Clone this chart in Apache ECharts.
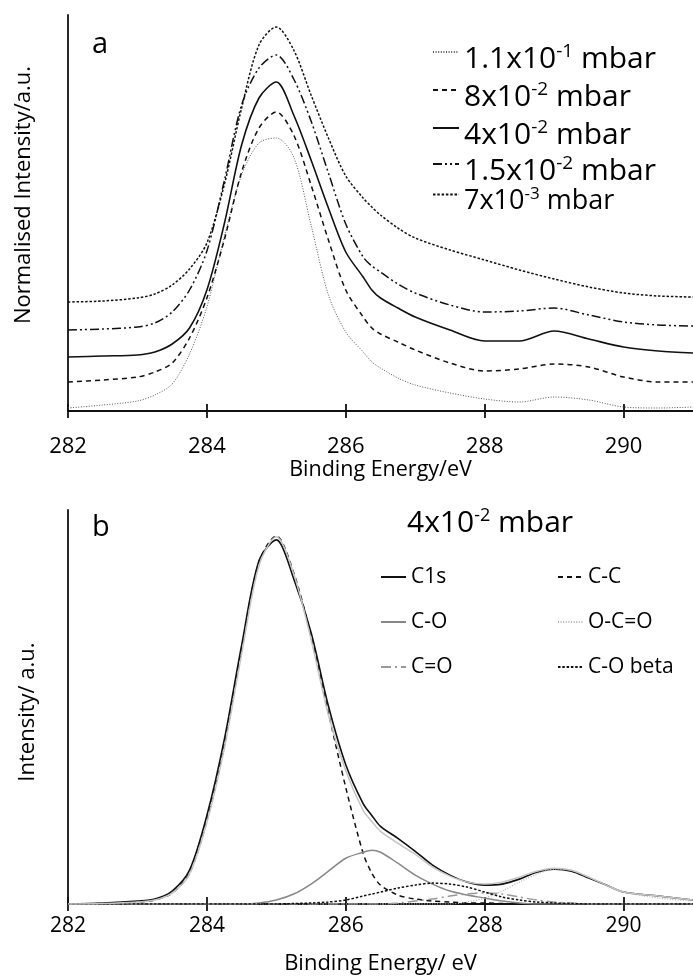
<!DOCTYPE html>
<html><head><meta charset="utf-8">
<script src="https://cdn.jsdelivr.net/npm/echarts@6/dist/echarts.min.js"></script>
<style>html,body{margin:0;padding:0;background:#fff}#c{width:693px;height:976px}</style>
</head><body><div id="c"></div>
<script>
// ---------- data: panel a ----------
const energyA = [282, 282.5, 283, 283.25, 283.5, 283.75, 284, 284.25, 284.5, 284.75, 285, 285.25, 285.5, 285.75, 286, 286.25, 286.375, 286.5, 286.75, 287, 287.5, 288, 288.5, 289, 289.5, 290, 290.5, 291];
const xTicks = [282, 284, 286, 288, 290];
const pressureMantissa = ['1.1x10', '8x10', '4x10', '1.5x10', '7x10'];
const pressureExponent = ['-1', '-2', '-2', '-2', '-3'];
const p1_1e1 = [0.03,0.06,0.10,0.16,0.27,0.57,1.04,1.74,2.36,2.68,2.73,2.54,1.86,1.16,0.79,0.59,0.49,0.43,0.33,0.26,0.18,0.12,0.09,0.14,0.11,0.04,0.03,0.04];
const p8e2   = [0.29,0.31,0.34,0.39,0.48,0.73,1.13,1.71,2.39,2.83,2.99,2.76,2.26,1.71,1.21,0.94,0.83,0.77,0.69,0.61,0.48,0.40,0.42,0.47,0.44,0.34,0.29,0.29];
const p4e2   = [0.54,0.55,0.56,0.59,0.67,0.83,1.21,1.87,2.66,3.13,3.29,2.96,2.51,2.03,1.59,1.34,1.21,1.13,1.03,0.94,0.81,0.70,0.70,0.80,0.72,0.64,0.60,0.58];
const p1_5e2 = [0.81,0.82,0.84,0.88,0.99,1.21,1.60,2.30,3.06,3.43,3.56,3.32,2.90,2.38,1.87,1.54,1.45,1.39,1.27,1.18,1.06,0.99,1.00,1.03,0.96,0.89,0.86,0.85];
const p7e3   = [1.09,1.10,1.13,1.17,1.26,1.42,1.68,2.26,3.03,3.66,3.84,3.61,3.16,2.73,2.35,2.13,2.04,1.96,1.83,1.73,1.61,1.51,1.41,1.32,1.24,1.18,1.15,1.14];

// ---------- data: panel b ----------
const energyB = [282, 282.5, 283, 283.25, 283.5, 283.75, 284, 284.25, 284.5, 284.75, 285, 285.25, 285.5, 285.75, 286, 286.25, 286.375, 286.5, 286.75, 287, 287.25, 287.5, 287.75, 288, 288.25, 288.5, 288.75, 289, 289.25, 289.5, 289.75, 290, 290.5, 291];
const c1s      = [0.00,0.01,0.03,0.05,0.13,0.34,0.89,1.65,2.60,3.45,3.66,3.27,2.73,1.99,1.40,1.01,0.89,0.78,0.66,0.53,0.39,0.29,0.22,0.19,0.20,0.25,0.32,0.35,0.33,0.26,0.19,0.12,0.08,0.04];
const envelope = [0.00,0.005,0.02,0.04,0.11,0.30,0.82,1.56,2.51,3.40,3.69,3.32,2.66,1.90,1.34,0.94,0.83,0.73,0.61,0.50,0.37,0.28,0.22,0.20,0.22,0.27,0.33,0.36,0.34,0.27,0.19,0.12,0.08,0.04];
const cc       = [0.00,0.005,0.02,0.04,0.11,0.31,0.84,1.59,2.56,3.44,3.70,3.33,2.69,1.92,1.17,0.51,0.31,0.19,0.09,0.05,0.03,0.02,0.01,0.01,0.005,0,0,0,0,0,0,0,0,0];
const co       = [0,0,0,0,0,0,0,0,0,0.01,0.04,0.10,0.20,0.33,0.46,0.52,0.54,0.52,0.41,0.29,0.20,0.13,0.09,0.06,0.03,0.01,0,0,0,0,0,0,0,0];
const oco      = [0,0,0,0,0,0,0,0,0,0,0,0,0,0,0,0,0,0,0,0,0,0,0.02,0.06,0.13,0.22,0.30,0.35,0.34,0.27,0.19,0.12,0.06,0.03];
const cdo      = [0,0,0,0,0,0,0,0,0,0,0,0,0,0,0,0,0,0,0.01,0.03,0.05,0.08,0.10,0.11,0.10,0.07,0.04,0.02,0.01,0,0,0,0,0];
const cobeta   = [0,0,0,0,0,0,0,0,0,0,0,0.005,0.01,0.02,0.04,0.08,0.10,0.12,0.16,0.19,0.21,0.20,0.17,0.12,0.07,0.04,0.02,0.01,0.005,0,0,0,0,0];
const componentNames = ['C1s', 'C-C', 'C-O', 'O-C=O', 'C=O', 'C-O beta'];
const titleB = ['4x10', '-2', ' mbar'];

// ---------- build ----------
const FONT = 'Open Sans';
const pair = (xs, ys) => xs.map((x, i) => [x, ys[i]]);
const pNames = pressureMantissa.map((m, i) => m + pressureExponent[i] + ' mbar');

const aStyles = [
  {color: '#555', width: 1, type: [1, 1.6]},
  {color: '#111', width: 1.5, type: [5, 4]},
  {color: '#111', width: 1.6, type: 'solid'},
  {color: '#111', width: 1.5, type: [9, 3, 2, 3, 2, 3]},
  {color: '#111', width: 1.5, type: [2.5, 1.8]}
];
const aValues = [p1_1e1, p8e2, p4e2, p1_5e2, p7e3];

const bSeriesDefs = [
  {name: 'C1s', data: c1s, style: {color: '#111', width: 1.6, type: 'solid'}},
  {name: 'C-C', data: cc, style: {color: '#111', width: 1.5, type: [5, 4]}},
  {name: 'C-O', data: co, style: {color: '#888', width: 1.5, type: 'solid'}},
  {name: 'O-C=O', data: oco, style: {color: '#b4b4b4', width: 1.3, type: [1, 1.6]}},
  {name: 'C=O', data: cdo, style: {color: '#999', width: 1.5, type: [10, 4, 2, 4]}},
  {name: 'C-O beta', data: cobeta, style: {color: '#111', width: 1.5, type: [2.5, 1.8]}},
  {name: 'envelope', data: envelope, style: {color: '#c4c4c4', width: 1.5, type: 'solid'}}
];

const series = [];
aValues.forEach((vals, i) => {
  series.push({name: pNames[i], type: 'line', xAxisIndex: 0, yAxisIndex: 0, data: pair(energyA, vals),
    smooth: 0.3, symbol: 'none', lineStyle: aStyles[i], color: aStyles[i].color, silent: true, clip: true, z: 3});
});
bSeriesDefs.forEach((d) => {
  series.push({name: d.name, type: 'line', xAxisIndex: 2, yAxisIndex: 1, data: pair(energyB, d.data),
    smooth: 0.3, symbol: 'none', lineStyle: d.style, color: d.style.color, silent: true, clip: true, z: 3});
});

const hiddenSymbol = {color: 'rgba(0,0,0,0)', borderColor: 'rgba(0,0,0,0)', borderWidth: 0, opacity: 0};
// [left, top, font size]
const aLegendPos = [[432, 42, 30], [432, 80, 30], [432, 118, 30], [432, 154, 30], [432, 186, 27]];
const legends = [];
pNames.forEach((n, i) => {
  const fs = aLegendPos[i][2];
  const lh = 36, padTop = 14;
  legends.push({
    data: [n], left: aLegendPos[i][0], top: aLegendPos[i][1], padding: 0, itemGap: 0,
    itemWidth: 26, itemHeight: 14, selectedMode: false, itemStyle: hiddenSymbol,
    formatter: () => '{m|' + pressureMantissa[i] + '}{s|' + pressureExponent[i] + '}{m| mbar}',
    textStyle: {fontFamily: FONT, color: '#000', padding: [padTop, 0, 0, 0], rich: {
      m: {fontFamily: FONT, fontSize: fs, lineHeight: lh, color: '#000'},
      s: {fontFamily: FONT, fontSize: Math.round(fs * 0.62), lineHeight: lh, color: '#000', padding: [0, 0, Math.round(fs * 0.5), 0]}
    }}
  });
});
const bLegendPos = [[380, 577], [557, 577], [380, 622], [557, 622], [380, 667], [557, 667]];
componentNames.forEach((n, i) => {
  legends.push({
    data: [n], left: bLegendPos[i][0], top: bLegendPos[i][1] - 13, padding: 0, itemGap: 0,
    itemWidth: 25, itemHeight: 14, selectedMode: false, itemStyle: hiddenSymbol,
    textStyle: {fontFamily: FONT, fontSize: 21, lineHeight: 26, color: '#000'}
  });
});

const axisLineStyle = {color: '#111', width: 1.8};
function xAxisMain(grid, labelSize, margin, nameGap, name, nameSize) {
  return {type: 'value', gridIndex: grid, min: 282, max: 291, position: 'bottom',
    axisLine: {show: true, onZero: false, lineStyle: axisLineStyle},
    axisTick: {show: true, length: 7, customValues: xTicks, lineStyle: {color: '#111', width: 1.8}},
    axisLabel: {show: true, customValues: xTicks, fontFamily: FONT, fontSize: labelSize, color: '#000', margin: margin},
    splitLine: {show: false},
    name: name, nameLocation: 'middle', nameGap: nameGap,
    nameTextStyle: {fontFamily: FONT, fontSize: nameSize, color: '#000'}};
}
function xAxisInner(grid) {
  return {type: 'value', gridIndex: grid, min: 282, max: 291, position: 'bottom',
    axisLine: {show: false}, axisLabel: {show: false}, splitLine: {show: false},
    axisTick: {show: true, inside: true, length: 7, customValues: xTicks, lineStyle: {color: '#111', width: 1.8}}};
}
function yAxis(grid, name, gap, shift) {
  return {type: 'value', gridIndex: grid, min: 0, max: 3.96,
    axisLine: {show: true, lineStyle: axisLineStyle}, axisTick: {show: false}, axisLabel: {show: false},
    splitLine: {show: false}, name: name, nameLocation: 'middle', nameGap: gap, nameRotate: 90,
    nameTextStyle: {fontFamily: FONT, fontSize: 22, color: '#000', padding: shift}};
}

const option = {
  backgroundColor: '#fff',
  animation: false,
  grid: [
    {left: 68, top: 15, right: 0, height: 396},
    {left: 68, top: 510, right: 0, height: 396}
  ],
  xAxis: [
    xAxisMain(0, 22, 25, 43, 'Binding Energy/eV', 21.5),
    xAxisInner(0),
    xAxisMain(1, 21, 12, 49, 'Binding Energy/ eV', 22),
    xAxisInner(1)
  ],
  yAxis: [
    yAxis(0, 'Normalised Intensity/a.u.', 33, [0, 0, 0, 36]),
    yAxis(1, 'Intensity/ a.u.', 29, [0, 10, 0, 0])
  ],
  title: [
    {text: 'a', left: 92, top: 30, padding: 0, textStyle: {fontFamily: FONT, fontSize: 29, fontWeight: 'normal', color: '#000'}},
    {text: 'b', left: 92, top: 513, padding: 0, textStyle: {fontFamily: FONT, fontSize: 29, fontWeight: 'normal', color: '#000'}},
    {text: '{m|' + titleB[0] + '}{s|' + titleB[1] + '}{m|' + titleB[2] + '}', left: 407, top: 505, padding: 0,
     textStyle: {fontWeight: 'normal', rich: {
       m: {fontFamily: FONT, fontSize: 30, fontWeight: 'normal', lineHeight: 36, color: '#000'},
       s: {fontFamily: FONT, fontSize: 18, fontWeight: 'normal', lineHeight: 36, color: '#000', padding: [0, 0, 15, 0]}
     }}}
  ],
  legend: legends,
  series: series
};
const chart = echarts.init(document.getElementById('c'), null, {renderer: 'canvas'});
chart.setOption(option);
</script>
</body></html>
